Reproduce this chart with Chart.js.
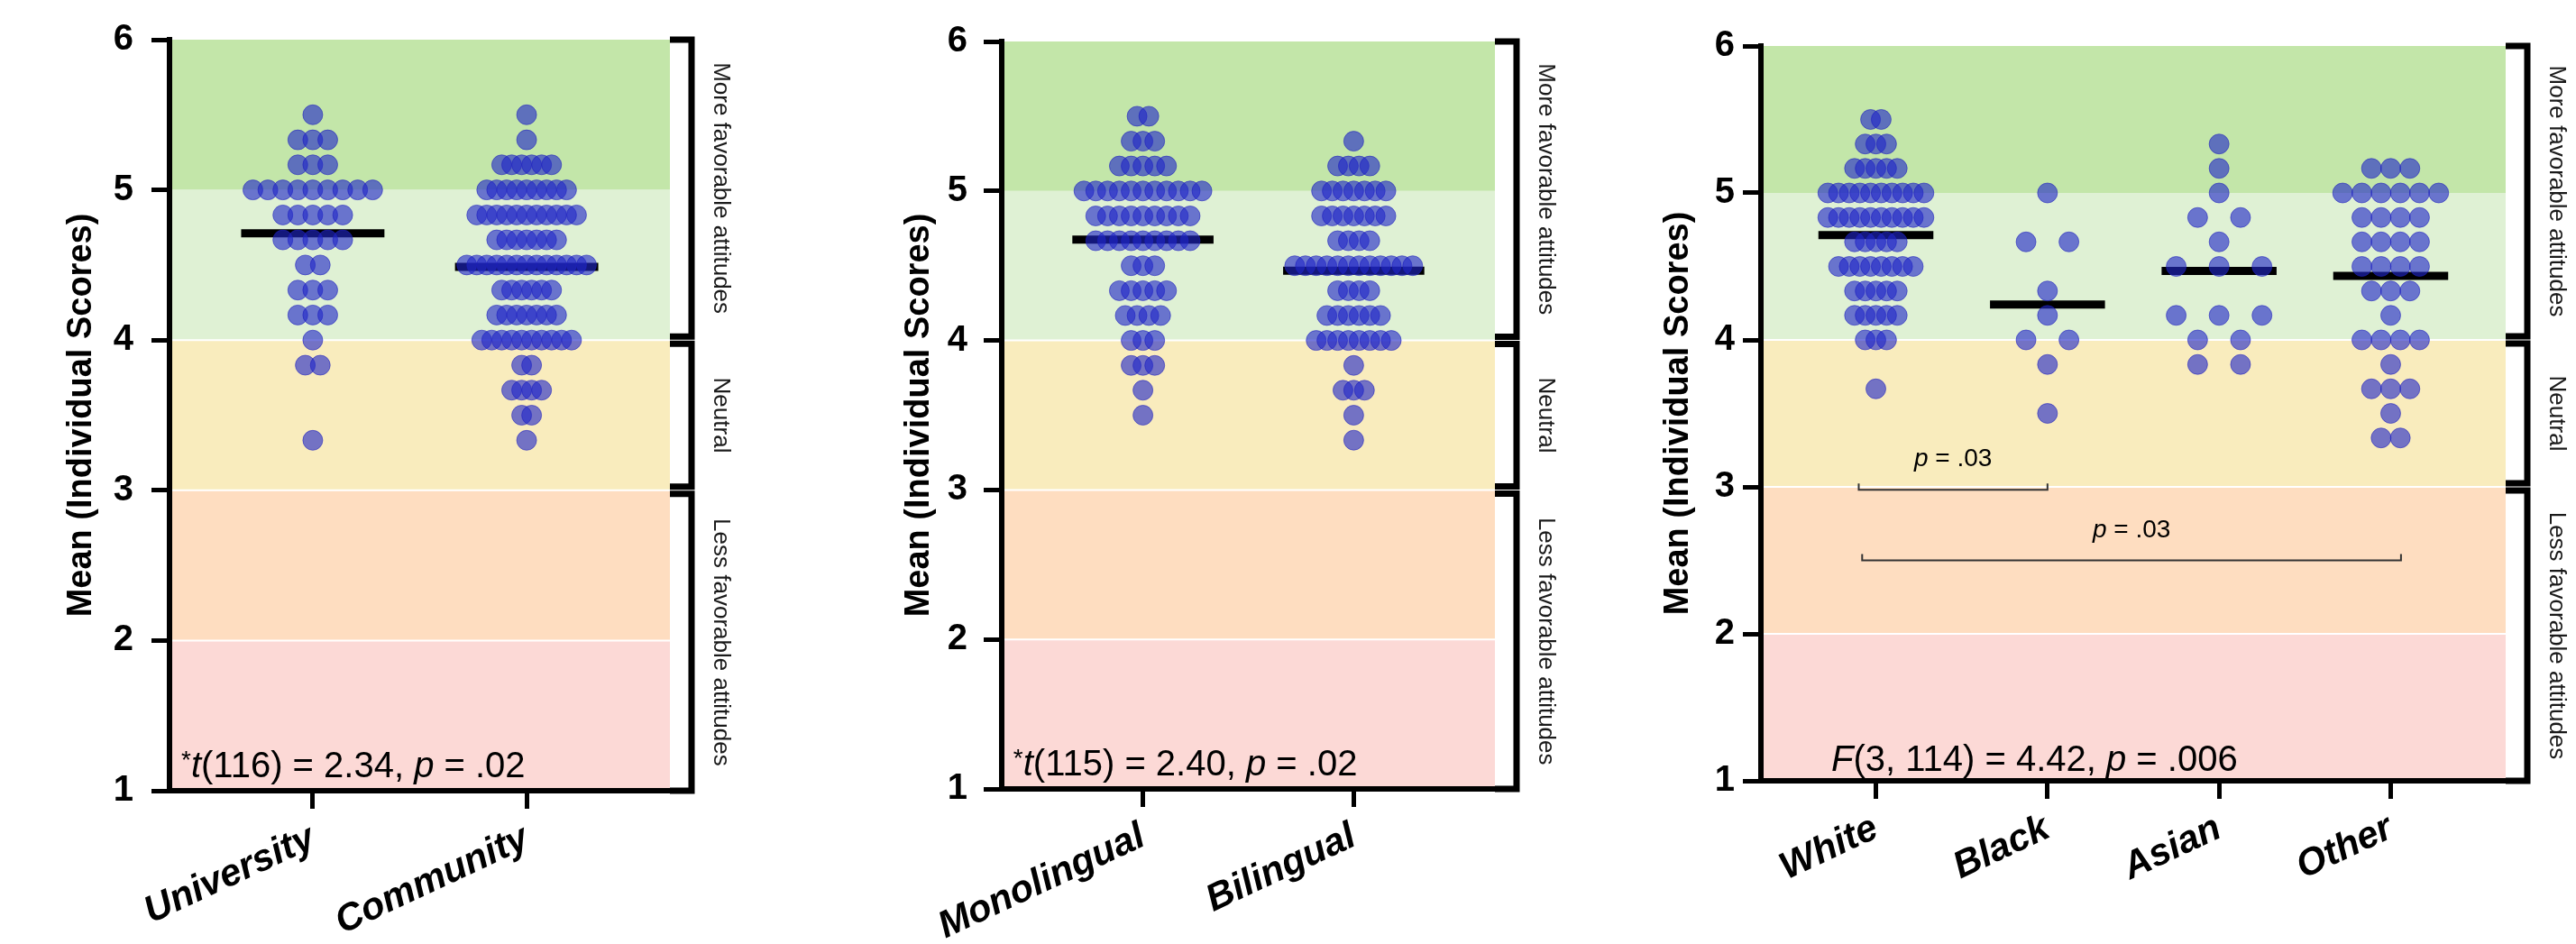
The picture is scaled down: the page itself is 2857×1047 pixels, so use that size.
<!DOCTYPE html>
<html>
<head>
<meta charset="utf-8">
<script src="https://cdn.jsdelivr.net/npm/chart.js@4.4.1/dist/chart.umd.min.js"></script>
<style>
  html, body { margin: 0; padding: 0; background: #fff; }
  #page { position: relative; width: 2857px; height: 1047px; overflow: hidden; }
  .panel { position: absolute; top: 0; }
</style>
</head>
<body>
<div id="page">
  <div class="panel" style="left:0px"><canvas id="sitesChart" width="900" height="1047"></canvas></div>
  <div class="panel" style="left:920px"><canvas id="languageChart" width="900" height="1047"></canvas></div>
  <div class="panel" style="left:1800px"><canvas id="raceChart" width="1057" height="1047"></canvas></div>
</div>
<script>
// score levels (means of six items), number of participants at each level
const scoreLevels = [3.333, 3.5, 3.667, 3.833, 4.0, 4.167, 4.333, 4.5, 4.667, 4.833, 5.0, 5.167, 5.333, 5.5];

const siteGroups = ["University", "Community"];
const universityCounts = [1, 0, 0, 2, 1, 3, 3, 2, 5, 5, 9, 3, 3, 1];
const communityCounts  = [1, 2, 4, 2, 10, 7, 6, 13, 7, 11, 9, 6, 1, 1];

const languageGroups = ["Monolingual", "Bilingual"];
const monolingualCounts = [0, 1, 1, 3, 3, 4, 5, 3, 9, 9, 11, 5, 3, 2];
const bilingualCounts   = [1, 1, 3, 1, 8, 6, 4, 12, 4, 7, 7, 4, 1, 0];

const raceGroups = ["White", "Black", "Asian", "Other"];
const whiteCounts = [0, 0, 1, 0, 3, 5, 5, 8, 5, 10, 10, 5, 3, 2];
const blackCounts = [0, 1, 0, 1, 2, 1, 1, 0, 2, 0, 1, 0, 0, 0];
const asianCounts = [0, 0, 0, 2, 2, 3, 0, 3, 1, 2, 1, 1, 1, 0];
const otherCounts = [2, 1, 3, 1, 4, 1, 3, 4, 4, 4, 6, 3, 0, 0];

// background bands of the attitude scale
const bandTops    = [6, 5, 4, 3, 2];
const bandBottoms = [5, 4, 3, 2, 1];
const bandColors  = ["#c3e6a9", "#dff1d4", "#f9ecbd", "#feddc0", "#fcd9d6"];

const attitudeLabels = ["More favorable attitudes", "Neutral", "Less favorable attitudes"];
const attitudeTops    = [6, 4, 3];
const attitudeBottoms = [4, 3, 1];

const FONT = "'Liberation Sans', Arial, Helvetica, sans-serif";

function meanOf(counts) {
  let n = 0, s = 0;
  counts.forEach((c, k) => { n += c; s += c * scoreLevels[k]; });
  return s / n;
}

function swarmPoints(counts, groupIndex) {
  const widest = Math.max(...counts);
  const step = Math.min(0.25, 0.56 / Math.max(widest - 1, 1));
  const pts = [];
  counts.forEach((n, k) => {
    for (let j = 0; j < n; j++) {
      pts.push({ x: groupIndex + (j - (n - 1) / 2) * step, y: scoreLevels[k] });
    }
  });
  return pts;
}

// draws a line of text made of plain / italic / superscript pieces
function drawRichText(ctx, pieces, x, y, size) {
  let cx = x;
  pieces.forEach((p) => {
    const sz = p.sup ? size * 0.7 : size;
    ctx.font = (p.italic ? "italic " : "") + sz + "px " + FONT;
    ctx.fillText(p.t, cx, p.sup ? y - size * 0.25 : y);
    cx += ctx.measureText(p.t).width;
  });
}

function richWidth(ctx, pieces, size) {
  let w = 0;
  pieces.forEach((p) => {
    const sz = p.sup ? size * 0.7 : size;
    ctx.font = (p.italic ? "italic " : "") + sz + "px " + FONT;
    w += ctx.measureText(p.t).width;
  });
  return w;
}

const bandsPlugin = {
  id: "bands",
  beforeDraw(chart) {
    const { ctx, chartArea, scales } = chart;
    const y = scales.y;
    ctx.save();
    bandTops.forEach((top, i) => {
      const y1 = y.getPixelForValue(top);
      const y2 = y.getPixelForValue(bandBottoms[i]);
      ctx.fillStyle = bandColors[i];
      ctx.fillRect(chartArea.left, y1, chartArea.right - chartArea.left, y2 - y1);
    });
    ctx.strokeStyle = "#ffffff";
    ctx.lineWidth = 2;
    [4, 3, 2].forEach((v) => {
      const py = y.getPixelForValue(v);
      ctx.beginPath();
      ctx.moveTo(chartArea.left, py);
      ctx.lineTo(chartArea.right, py);
      ctx.stroke();
    });
    ctx.restore();
  },
};

const notesPlugin = {
  id: "notes",
  afterDraw(chart, args, opts) {
    const { ctx, chartArea, scales } = chart;
    const x = scales.x, y = scales.y;
    ctx.save();

    // brackets on the right side
    const bx = chartArea.right + 24;
    ctx.strokeStyle = "#000";
    ctx.lineWidth = 7;
    attitudeTops.forEach((top, i) => {
      const y1 = y.getPixelForValue(top) + (i === 0 ? 0 : 4);
      const y2 = y.getPixelForValue(attitudeBottoms[i]) - (i === 2 ? 0 : 4);
      ctx.beginPath();
      ctx.moveTo(chartArea.right, y1);
      ctx.lineTo(bx, y1);
      ctx.lineTo(bx, y2);
      ctx.lineTo(chartArea.right, y2);
      ctx.stroke();
      ctx.save();
      ctx.translate(chartArea.right + 56, (y1 + y2) / 2);
      ctx.rotate(Math.PI / 2);
      ctx.fillStyle = "#1a1a1a";
      ctx.font = "26px " + FONT;
      ctx.textAlign = "center";
      ctx.textBaseline = "middle";
      ctx.fillText(attitudeLabels[i], 0, 0);
      ctx.restore();
    });

    // test statistic in the lower left corner
    ctx.fillStyle = "#000";
    ctx.textBaseline = "alphabetic";
    ctx.textAlign = "left";
    drawRichText(ctx, opts.stat, x.getPixelForValue(opts.statX), y.getPixelForValue(opts.statY), 40);

    // pairwise comparison brackets
    (opts.pairs || []).forEach((p) => {
      const x1 = x.getPixelForValue(p.from);
      const x2 = x.getPixelForValue(p.to);
      const py = y.getPixelForValue(p.y);
      ctx.strokeStyle = "#333";
      ctx.lineWidth = 2;
      ctx.beginPath();
      ctx.moveTo(x1, py - 7);
      ctx.lineTo(x1, py);
      ctx.lineTo(x2, py);
      ctx.lineTo(x2, py - 7);
      ctx.stroke();
      const w = richWidth(ctx, p.text, 28);
      ctx.fillStyle = "#000";
      drawRichText(ctx, p.text, (x1 + x2) / 2 - w / 2, py - 26, 28);
    });
    ctx.restore();
  },
};

function makePanel(canvasId, groups, countsList, layout, notes) {
  const datasets = [];
  countsList.forEach((counts, i) => {
    datasets.push({
      type: "scatter",
      data: swarmPoints(counts, i),
      pointRadius: 11,
      pointBackgroundColor: "rgba(32, 38, 200, 0.62)",
      pointBorderColor: "rgba(30, 30, 190, 0.55)",
      pointBorderWidth: 1,
    });
  });
  countsList.forEach((counts, i) => {
    const m = meanOf(counts);
    datasets.push({
      type: "line",
      data: [{ x: i - 0.335, y: m }, { x: i + 0.335, y: m }],
      borderColor: "#000",
      borderWidth: 9,
      borderCapStyle: "butt",
      pointRadius: 0,
    });
  });

  const tickGrid = {
    drawOnChartArea: false,
    drawTicks: true,
    tickLength: 20,
    tickWidth: 5,
    tickColor: "#000",
  };

  return new Chart(document.getElementById(canvasId), {
    type: "scatter",
    data: { datasets: datasets },
    plugins: [bandsPlugin, notesPlugin],
    options: {
      responsive: false,
      animation: false,
      events: [],
      layout: { padding: { top: layout.top, right: layout.right, bottom: 0, left: 0 } },
      plugins: {
        legend: { display: false },
        tooltip: { enabled: false },
        notes: notes,
      },
      scales: {
        x: {
          type: "linear",
          min: -0.67,
          max: groups.length - 1 + 0.67,
          afterBuildTicks: (axis) => {
            axis.ticks = groups.map((g, i) => ({ value: i }));
          },
          afterFit: (axis) => { axis.height = layout.xHeight; },
          ticks: {
            autoSkip: false,
            minRotation: 25,
            maxRotation: 25,
            padding: 8,
            color: "#000",
            font: { family: FONT, size: 42, weight: "bold", style: "italic" },
            callback: (v) => groups[v],
          },
          grid: tickGrid,
          border: { display: true, width: 6, color: "#000" },
        },
        y: {
          min: 1,
          max: 6,
          afterFit: (axis) => { axis.width = layout.yWidth; },
          ticks: {
            stepSize: 1,
            padding: layout.tickPad,
            color: "#000",
            font: { family: FONT, size: 40, weight: "bold" },
          },
          grid: tickGrid,
          border: { display: true, width: 6, color: "#000" },
          title: {
            display: true,
            text: "Mean (Individual Scores)",
            color: "#000",
            font: { family: FONT, size: 38, weight: "bold" },
            padding: { top: layout.titlePad, bottom: 0 },
          },
        },
      },
    },
  });
}

makePanel("sitesChart", siteGroups, [universityCounts, communityCounts],
  { top: 42, right: 157, xHeight: 170, yWidth: 188, tickPad: 20, titlePad: 68 },
  {
    statX: -0.615, statY: 1.09,
    stat: [{ t: "*", sup: true }, { t: "t", italic: true }, { t: "(116) = 2.34, " }, { t: "p", italic: true }, { t: " = .02" }],
  });

makePanel("languageChart", languageGroups, [monolingualCounts, bilingualCounts],
  { top: 46, right: 162, xHeight: 172, yWidth: 191, tickPad: 18, titlePad: 77 },
  {
    statX: -0.615, statY: 1.09,
    stat: [{ t: "*", sup: true }, { t: "t", italic: true }, { t: "(115) = 2.40, " }, { t: "p", italic: true }, { t: " = .02" }],
  });

makePanel("raceChart", raceGroups, [whiteCounts, blackCounts, asianCounts, otherCounts],
  { top: 51, right: 78, xHeight: 181, yWidth: 153, tickPad: 9, titlePad: 39 },
  {
    statX: -0.26, statY: 1.07,
    stat: [{ t: "F", italic: true }, { t: "(3, 114) = 4.42, " }, { t: "p", italic: true }, { t: " = .006" }],
    pairs: [
      { from: -0.1, to: 1.0, y: 2.98, text: [{ t: "p", italic: true }, { t: " = .03" }] },
      { from: -0.08, to: 3.06, y: 2.5, text: [{ t: "p", italic: true }, { t: " = .03" }] },
    ],
  });
</script>
</body>
</html>
